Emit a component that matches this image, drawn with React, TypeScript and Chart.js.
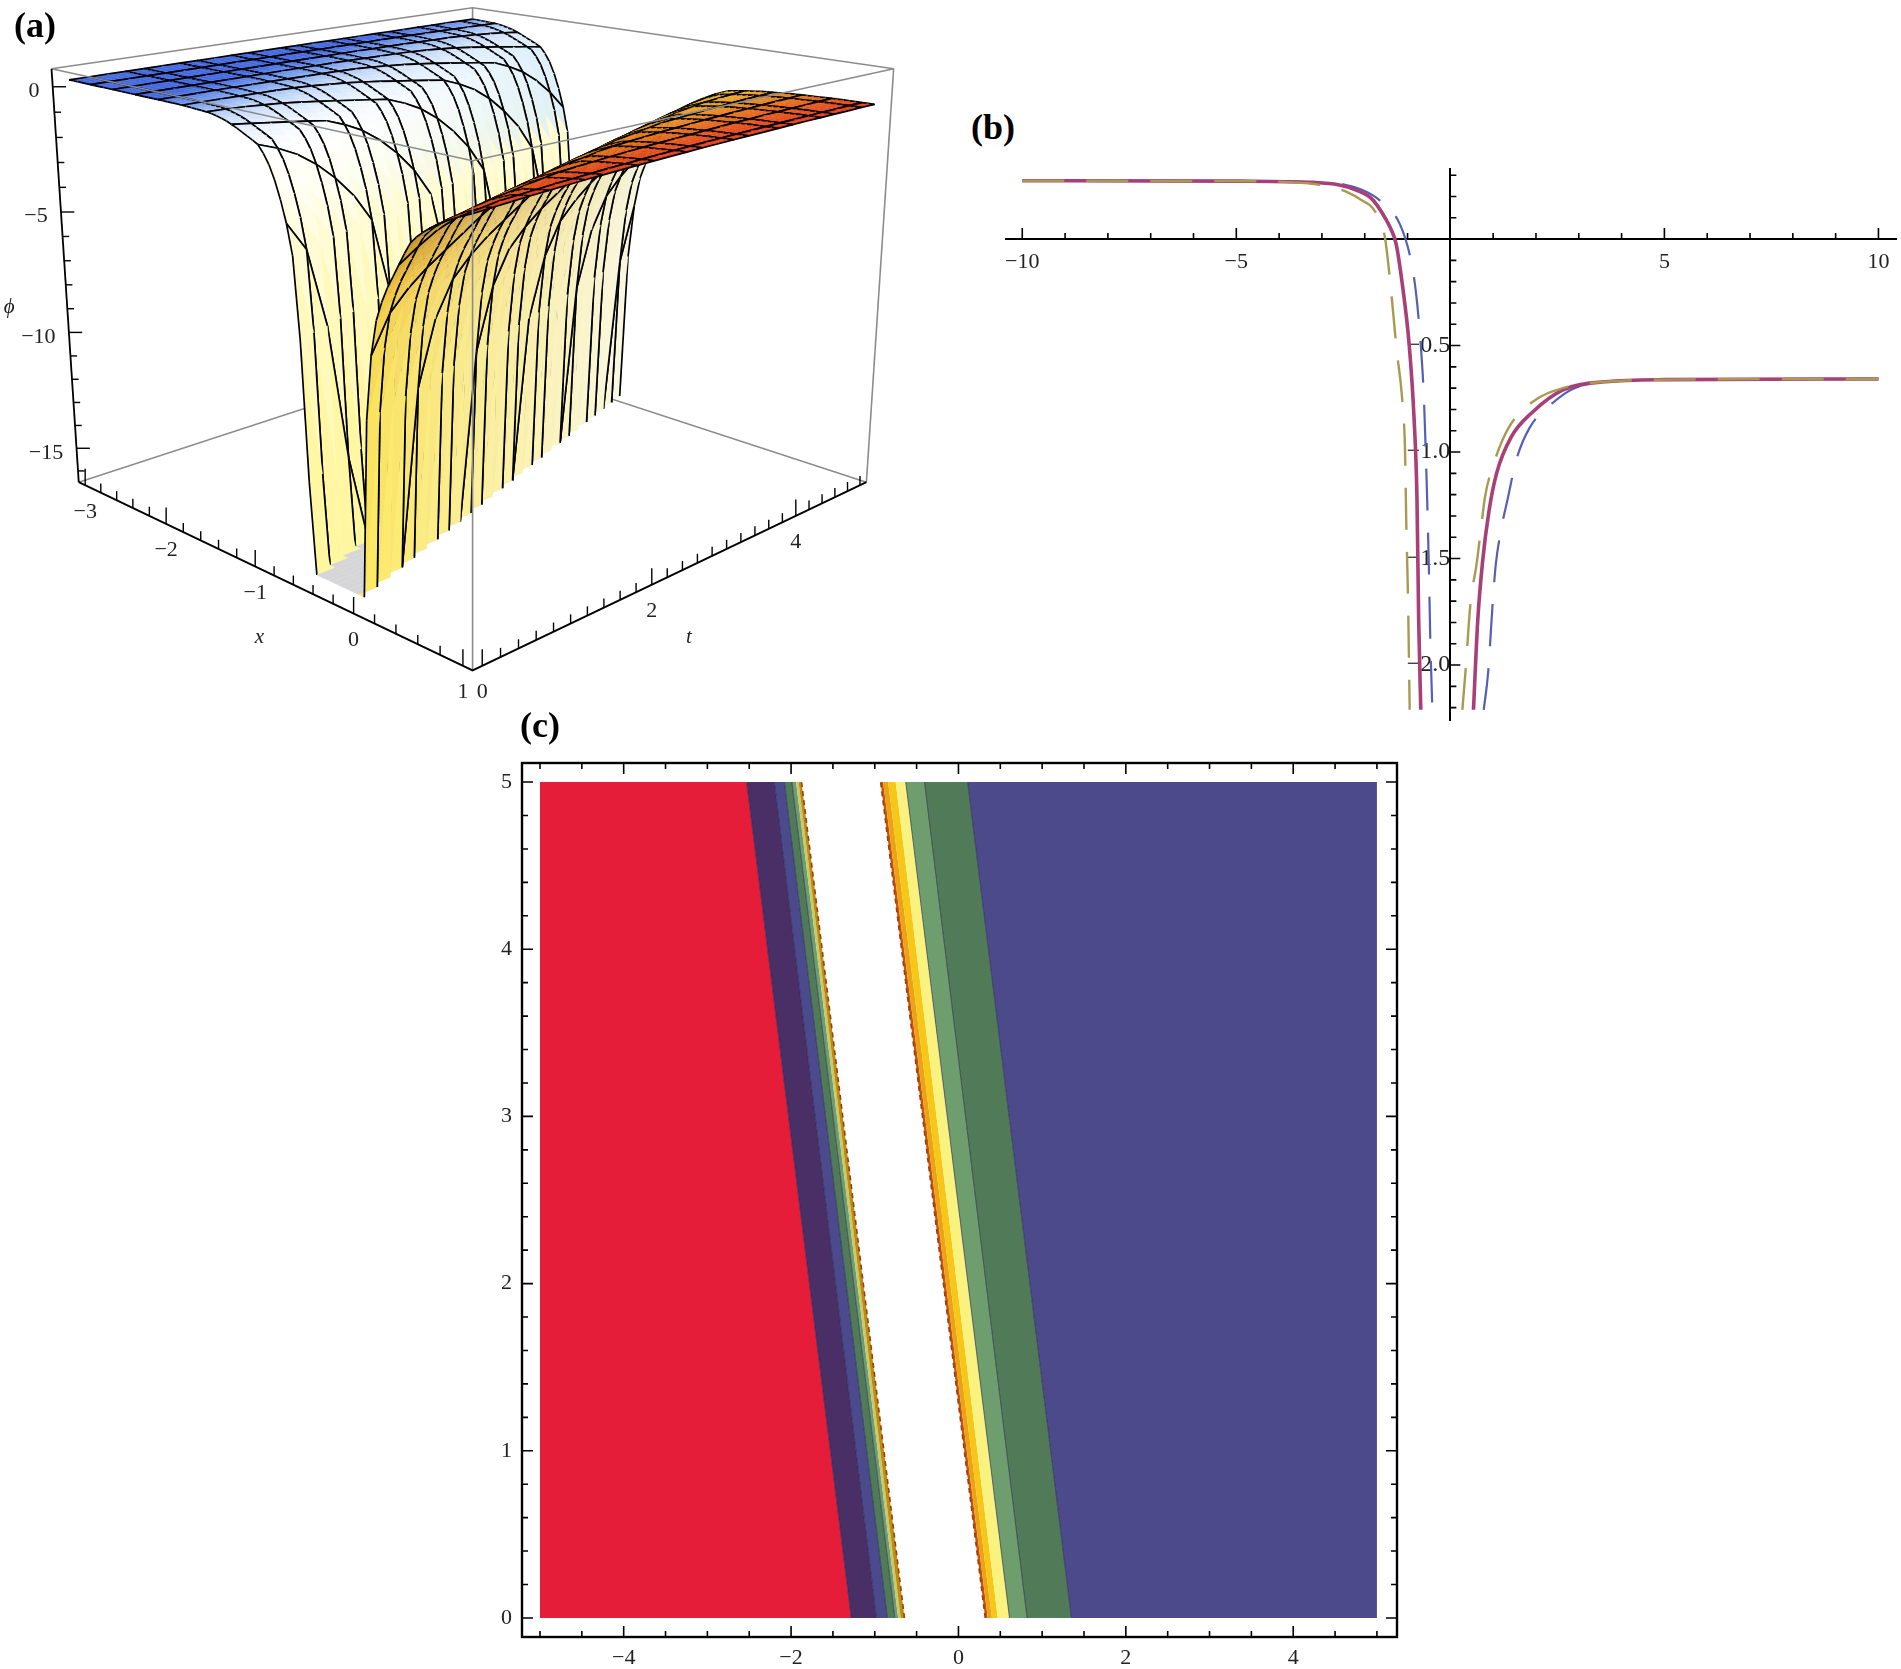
import React, { useEffect, useRef } from "react";
import { Chart, registerables } from "chart.js";

Chart.register(...registerables);

/* ---------- panel (a): wave profile read from the surface, phi against x + 0.26 t ---------- */
const aProfilePhi = [
  0.27, 0.27, 0.27, 0.27, 0.27, 0.27, 0.27, 0.27, 0.27, 0.27, 0.27, 0.27, 0.27, 0.27, 0.27, 0.27, 0.27, 0.27, 0.27, 0.27, 0.27,
  0.27, 0.27, 0.27, 0.27, 0.26, 0.26, 0.25, 0.24, 0.23, 0.22, 0.2, 0.16, 0.11, 0.05, -0.03, -0.12, -0.22, -0.32, -0.42,
  -0.53, -0.8, -1.15, -1.65, -2.3, -3.1, -4.2, -7.2, -12.5, -16,
  -16, -16, -16, -16, -16, -16, -16, -16, -16,
  -9.3, -6.9, -5.6, -4.9, -4.35, -3.9, -3.45, -3.0, -2.6, -2.35, -2.15, -1.98, -1.82, -1.68, -1.55, -1.43, -1.32, -1.22, -1.12,
  -1.08, -1.04, -1.0, -0.97, -0.94, -0.91, -0.89, -0.87, -0.85, -0.83, -0.81, -0.8, -0.78, -0.77, -0.76, -0.75, -0.74, -0.73,
  -0.72, -0.71, -0.71, -0.7, -0.7, -0.69, -0.69,
];
const aXColumns = 77;
const aTRows = 25;
const aXTickLabels = [-3, -2, -1, 0, 1];
const aTTickLabels = [0, 2, 4];
const aZTickLabels = [0, -5, -10, -15];

/* ---------- panel (b) ---------- */
const bMainLeftX = [-10, -4.9, -3.19, -2.62, -2.2, -1.84, -1.6, -1.42, -1.27, -1.13, -0.96, -0.85, -0.78, -0.74, -0.69];
const bMainLeftY = [0.274, 0.272, 0.266, 0.255, 0.23, 0.19, 0.125, 0.06, -0.02, -0.2, -0.5, -0.833, -1.216, -1.79, -2.21];
const bMainRightX = [0.54, 0.64, 0.75, 0.9, 1.08, 1.42, 1.91, 2.62, 3.61, 5.03, 10];
const bMainRightY = [-2.21, -1.79, -1.52, -1.28, -1.1, -0.93, -0.814, -0.709, -0.67, -0.66, -0.657];
const bOliveLeftX = [-10, -5.03, -3.33, -2.76, -2.41, -2.05, -1.81, -1.53, -1.42, -1.25, -1.13, -1.06, -1.03, -0.99, -0.95];
const bOliveLeftY = [0.274, 0.272, 0.262, 0.243, 0.22, 0.18, 0.144, 0.01, -0.172, -0.527, -0.74, -0.987, -1.33, -1.676, -2.21];
const bOliveRightX = [0.28, 0.35, 0.47, 0.61, 0.71, 0.81, 1.02, 1.35, 1.91, 2.62, 3.61, 5.03, 10];
const bOliveRightY = [-2.21, -2.04, -1.71, -1.53, -1.37, -1.21, -1.05, -0.89, -0.766, -0.7, -0.67, -0.66, -0.657];
const bBlueLeftX = [-10, -4.9, -3.19, -2.48, -2.05, -1.7, -1.18, -0.92, -0.81, -0.71, -0.62, -0.54, -0.5, -0.47, -0.42];
const bBlueLeftY = [0.274, 0.272, 0.266, 0.256, 0.23, 0.19, 0.07, -0.1, -0.24, -0.45, -0.738, -1.236, -1.56, -1.87, -2.21];
const bBlueRightX = [0.78, 0.88, 0.99, 1.06, 1.18, 1.35, 1.53, 1.84, 2.41, 2.9, 3.75, 5.03, 10];
const bBlueRightY = [-2.21, -2.04, -1.705, -1.53, -1.37, -1.21, -1.044, -0.89, -0.766, -0.7, -0.67, -0.66, -0.657];
const bXLabels = [-10, -5, 5, 10];
const bYLabels = [-2, -1.5, -1, -0.5];

/* ---------- panel (c): band boundaries at t = 0 and t = 5 ---------- */
const cBoundaryAt0 = [-5, -1.28, -0.98, -0.85, -0.76, -0.72, -0.69, -0.645, 0.32, 0.35, 0.4, 0.47, 0.61, 0.82, 1.35, 5];
const cBoundaryAt5 = [-5, -2.53, -2.2, -2.08, -1.99, -1.94, -1.91, -1.875, -0.93, -0.9, -0.84, -0.75, -0.63, -0.406, 0.11, 5];
const cBandColors = ["#e61d39", "#4a2f66", "#4b4a8c", "#507a58", "#6f9e6e", "#c9c96a", "#b98f12", null, "#c4540e", "#eba313", "#f6c618", "#faf27e", "#6f9e6e", "#507a58", "#4d4a8b"];
const cXLabels = [-4, -2, 0, 2, 4];
const cYLabels = [0, 1, 2, 3, 4, 5];

const serif = "'Liberation Serif', serif";
const minus = (s: string) => s.replace("-", "\u2212");

type RGB = number[];
const mix = (p: RGB, q: RGB, f: number): RGB => {
  const g = Math.min(1, Math.max(0, f));
  return p.map((v, i) => v + (q[i] - v) * g);
};
const css = (c: RGB) => `rgb(${Math.round(c[0])},${Math.round(c[1])},${Math.round(c[2])})`;
const stops = (list: [number, RGB][], v: number): RGB => {
  if (v <= list[0][0]) return list[0][1];
  for (let i = 1; i < list.length; i++) {
    if (v <= list[i][0]) return mix(list[i - 1][1], list[i][1], (v - list[i - 1][0]) / (list[i][0] - list[i - 1][0]));
  }
  return list[list.length - 1][1];
};

/* box projection of panel (a) */
const proj = (a: number, b: number, c: number) => {
  const e = 1 - a + b;
  const D = 1 + 0.232 * e - 0.0797 * c;
  return { x: 780 + (800.8 * (a + b - 1)) / D, y: (1460 - 166.3 * e - 1138 * c + 17 * e * c) / D };
};
const nx = (x: number) => 0.02 + (0.96 * (x + 3)) / 4;
const nt = (t: number) => 0.02 + (0.96 * t) / 5;
const nz = (p: number) => (p + 16.5) / 17.2;
const gridX = (k: number) => -3 + (4 * k) / aXColumns;
const gridT = (j: number) => (5 * j) / aTRows;
const vertex = (k: number, j: number) => proj(nx(gridX(k)), nt(gridT(j)), nz(aProfilePhi[k + j]));

const leftStops: [number, RGB][] = [
  [-2.0, [66, 104, 222]],
  [-1.6, [128, 165, 238]],
  [-1.3, [196, 218, 250]],
  [-1.05, [236, 244, 255]],
  [-0.85, [255, 255, 255]],
  [-0.7, [255, 255, 240]],
  [-0.6, [255, 251, 208]],
  [-0.5, [255, 247, 160]],
];
const plateauStops: [number, RGB][] = [
  [-0.6, [238, 205, 60]],
  [0, [235, 160, 40]],
  [0.5, [228, 110, 30]],
  [1, [226, 60, 30]],
];

function quadColor(k: number, j: number): string {
  const n = k + j + 1;
  const xi = -3 + (4 * n) / aXColumns;
  const x = gridX(k + 0.5);
  const t = gridT(j + 0.5);
  const phis = [aProfilePhi[k + j], aProfilePhi[k + j + 1], aProfilePhi[k + j + 2]];
  if (phis.every((p) => p <= -16)) return "rgb(214,214,216)";
  if (xi < -0.2) {
    const base = stops(leftStops, xi);
    if (xi > -1.1 && xi < -0.66) return css(mix(base, [210, 234, 251], Math.pow(t / 5, 2) * 0.75));
    return css(base);
  }
  if (xi > 0.72) return css(stops(plateauStops, x));
  const u = (xi - 0.03) / 0.69;
  const front = stops(
    [
      [0, [252, 232, 96]],
      [0.35, [236, 190, 56]],
      [0.7, [196, 142, 38]],
      [1, [140, 94, 22]],
    ],
    u
  );
  const far = mix([250, 248, 226], [224, 224, 196], u);
  return css(mix(front, far, Math.pow(t / 5, 0.8)));
}

const hidden = { display: false };

function makeA(canvas: HTMLCanvasElement) {
  const ds: any[] = [];
  const line = (pts: any[], color: string, width: number) =>
    ds.push({ data: pts, showLine: true, pointRadius: 0, borderColor: color, borderWidth: width, fill: false, tension: 0 });
  const box = "#8c8c8c";
  const P = proj;
  // back edges of the box
  line([P(0, 0, 0), P(0, 1, 0), P(1, 1, 0)], box, 1.6);
  line([P(0, 1, 0), P(0, 1, 1)], box, 1.6);
  line([P(0, 0, 1), P(0, 1, 1), P(1, 1, 1)], box, 1.6);
  line([P(1, 1, 0), P(1, 1, 1)], box, 1.6);

  const meshRows = new Set<number>();
  for (let i = 0; i <= 17; i++) meshRows.add(Math.round(i * 1.47));
  meshRows.add(aTRows);
  const meshCols = new Set<number>();
  for (let i = 0; i <= aXColumns; i += 5) meshCols.add(i);
  meshCols.add(aXColumns);
  const onFloor = (n: number) => aProfilePhi[n] <= -16 && aProfilePhi[n + 1] <= -16;
  const ink = "#000";
  const weight = 1.7;

  for (let k = 0; k < aXColumns; k++) {
    for (let j = aTRows - 1; j >= 0; j--) {
      const color = quadColor(k, j);
      const a = vertex(k, j);
      const b = vertex(k + 1, j);
      const c = vertex(k + 1, j + 1);
      const d = vertex(k, j + 1);
      ds.push({
        data: [a, b, c, d, a],
        showLine: true,
        pointRadius: 0,
        borderColor: color,
        borderWidth: 0.4,
        backgroundColor: color,
        fill: "shape",
        tension: 0,
      });
      if (meshCols.has(k) && !onFloor(k + j)) line([a, d], ink, weight);
      if (meshRows.has(j + 1) && !onFloor(k + j + 1)) line([c, d], ink, weight);
      if (meshCols.has(k + 1) && !onFloor(k + 1 + j)) line([b, c], ink, weight);
      if (meshRows.has(j) && !onFloor(k + j)) line([a, b], ink, weight);
    }
  }
  // front edges of the box
  line([P(0, 0, 1), P(1, 0, 1), P(1, 1, 1)], box, 1.6);
  line([P(1, 0, 0), P(1, 0, 1)], box, 1.6);
  // axes
  line([P(0, 0, 0), P(1, 0, 0), P(1, 1, 0)], "#000", 1.8);
  line([P(0, 0, 0), P(0, 0, 1)], "#000", 1.8);
  for (let i = 0; i <= 20; i++) {
    const v = -3 + i * 0.2;
    const p = P(nx(v), 0, 0);
    line([p, { x: p.x, y: p.y - (i % 5 === 0 ? 36 : 20) }], "#000", 1.4);
  }
  for (let i = 0; i <= 25; i++) {
    const v = i * 0.2;
    const p = P(1, nt(v), 0);
    line([p, { x: p.x, y: p.y - (i % 10 === 0 ? 36 : 20) }], "#000", 1.4);
  }
  for (let v = 0; v >= -16; v--) {
    const p = P(0, 0, nz(v));
    line([p, { x: p.x + (v % 5 === 0 ? 22 : 11), y: p.y }], "#000", 1.4);
  }
  const N = ds.length;
  ds.forEach((d, i) => (d.order = N - i));

  const labels = {
    id: "aLabels",
    afterDraw(chart: any) {
      const { ctx, scales } = chart;
      const sx = scales.x;
      const sy = scales.y;
      const text = (s: string, x: number, y: number, align: CanvasTextAlign, font: string) => {
        ctx.font = font;
        ctx.textAlign = align;
        ctx.textBaseline = "middle";
        ctx.fillStyle = "#222";
        ctx.fillText(s, sx.getPixelForValue(x), sy.getPixelForValue(y));
      };
      const f = `22px ${serif}`;
      aXTickLabels.forEach((v) => {
        const p = proj(nx(v), 0, 0);
        text(minus(String(v)), p.x, p.y + 58, "center", f);
      });
      aTTickLabels.forEach((v) => {
        const p = proj(1, nt(v), 0);
        text(String(v), p.x, p.y + 58, "center", f);
      });
      aZTickLabels.forEach((v) => {
        const p = proj(0, 0, nz(v));
        text(minus(String(v)), p.x - 22, p.y + 10, "right", f);
      });
      const it = `italic 21px ${serif}`;
      text("x", 428, 1388, "center", it);
      text("t", 1137, 1388, "center", it);
      text("\u03d5", 15, 670, "center", it);
    },
  };

  return new Chart(canvas, {
    type: "scatter",
    data: { datasets: ds },
    options: {
      responsive: false,
      animation: false,
      devicePixelRatio: 1,
      events: [],
      layout: { padding: 0 },
      plugins: { legend: hidden, tooltip: { enabled: false }, title: hidden },
      scales: {
        x: { display: false, min: 0, max: 1568 },
        y: { display: false, min: 0, max: 1568, reverse: true },
      },
    },
    plugins: [labels],
  } as any);
}

const zip = (xs: number[], ys: number[]) => xs.map((x, i) => ({ x, y: ys[i] }));

function makeB(canvas: HTMLCanvasElement) {
  const curve = (xs: number[], ys: number[], color: string, width: number, dash: number[]) => ({
    data: zip(xs, ys),
    showLine: true,
    pointRadius: 0,
    borderColor: color,
    borderWidth: width,
    borderDash: dash,
    cubicInterpolationMode: "monotone",
    fill: false,
  });
  const blue = "#5560b4";
  const mag = "#a83f76";
  const olive = "#a89a52";
  const ds = [
    curve(bOliveLeftX, bOliveLeftY, olive, 2.4, [42, 22]),
    curve(bOliveRightX, bOliveRightY, olive, 2.4, [42, 22]),
    curve(bMainLeftX, bMainLeftY, mag, 3.6, []),
    curve(bMainRightX, bMainRightY, mag, 3.6, []),
    curve(bBlueLeftX, bBlueLeftY, blue, 2.2, [42, 22]),
    curve(bBlueRightX, bBlueRightY, blue, 2.2, [42, 22]),
  ];
  const ticks = {
    id: "bTicks",
    afterDatasetsDraw(chart: any) {
      const { ctx, scales } = chart;
      const x0 = scales.x.getPixelForValue(0);
      const y0 = scales.y.getPixelForValue(0);
      ctx.strokeStyle = "#000";
      ctx.lineWidth = 1.6;
      ctx.beginPath();
      for (let i = -10; i <= 10; i++) {
        if (i === 0) continue;
        const p = scales.x.getPixelForValue(i);
        ctx.moveTo(p, y0);
        ctx.lineTo(p, y0 - (i % 5 === 0 ? 11 : 6));
      }
      for (let i = -22; i <= 3; i++) {
        if (i === 0) continue;
        const p = scales.y.getPixelForValue(i / 10);
        ctx.moveTo(x0, p);
        ctx.lineTo(x0 + (i % 5 === 0 ? 10 : 6), p);
      }
      ctx.stroke();
    },
  };
  const font = { family: serif, size: 22 };
  const pinX = (s: any) => {
    s.height = 0;
    s.paddingLeft = 0;
    s.paddingRight = 0;
  };
  const pinY = (s: any) => {
    s.width = 0;
    s.paddingTop = 0;
    s.paddingBottom = 0;
  };
  return new Chart(canvas, {
    type: "scatter",
    data: { datasets: ds as any },
    options: {
      responsive: false,
      animation: false,
      devicePixelRatio: 1,
      events: [],
      clip: false,
      layout: { padding: { left: 16, right: 4, top: 19, bottom: 20 } },
      plugins: { legend: hidden, tooltip: { enabled: false }, title: hidden },
      scales: {
        x: {
          type: "linear",
          position: { y: 0 },
          min: -10.38,
          max: 10.41,
          grid: { display: false },
          border: { display: true, color: "#000", width: 2 },
          afterBuildTicks: (s: any) => (s.ticks = bXLabels.map((value) => ({ value }))),
          afterFit: pinX,
          ticks: { autoSkip: false, maxRotation: 0, padding: 2, color: "#222", font, callback: (v: any) => minus(String(v)) },
        },
        y: {
          type: "linear",
          position: { x: 0 },
          min: -2.258,
          max: 0.329,
          grid: { display: false },
          border: { display: true, color: "#000", width: 2 },
          afterBuildTicks: (s: any) => (s.ticks = bYLabels.map((value) => ({ value }))),
          afterFit: pinY,
          ticks: { autoSkip: false, padding: 12, color: "#222", font: { family: serif, size: 24 }, callback: (v: any) => minus(Number(v).toFixed(1)) },
        },
      },
    } as any,
    plugins: [ticks],
  } as any);
}

function makeC(canvas: HTMLCanvasElement) {
  const ds: any[] = [];
  cBandColors.forEach((color, i) => {
    if (!color) return;
    const a = { x: cBoundaryAt0[i], y: 0 };
    const b = { x: cBoundaryAt5[i], y: 5 };
    const c = { x: cBoundaryAt5[i + 1], y: 5 };
    const d = { x: cBoundaryAt0[i + 1], y: 0 };
    ds.push({ data: [a, b, c, d, a], showLine: true, pointRadius: 0, borderWidth: 0, borderColor: color, backgroundColor: color, fill: "shape", tension: 0 });
  });
  cBoundaryAt0.forEach((x, i) => {
    if (i === 0 || i === cBoundaryAt0.length - 1) return;
    const edge = i === 7 || i === 8;
    if (i === 5 || i === 6 || i === 9 || i === 10 || i === 11) return;
    ds.push({
      data: [{ x, y: 0 }, { x: cBoundaryAt5[i], y: 5 }],
      showLine: true,
      pointRadius: 0,
      borderWidth: edge ? 1.6 : 1,
      borderColor: edge ? "#a8380c" : "rgba(28,28,72,0.6)",
      borderDash: edge ? [5, 4] : [],
      fill: false,
      tension: 0,
    });
  });
  const N = ds.length;
  ds.forEach((d, i) => (d.order = N - i));
  const frame = {
    id: "cFrame",
    afterDatasetsDraw(chart: any) {
      const { ctx, scales, chartArea: A } = chart;
      ctx.strokeStyle = "#000";
      ctx.lineWidth = 2.4;
      ctx.strokeRect(A.left, A.top, A.right - A.left, A.bottom - A.top);
      ctx.lineWidth = 1.6;
      ctx.beginPath();
      for (let i = -10; i <= 10; i++) {
        const p = scales.x.getPixelForValue(i / 2);
        const len = i % 4 === 0 ? 11 : 6;
        ctx.moveTo(p, A.bottom);
        ctx.lineTo(p, A.bottom - len);
        ctx.moveTo(p, A.top);
        ctx.lineTo(p, A.top + len);
      }
      for (let i = 0; i <= 25; i++) {
        const p = scales.y.getPixelForValue(i / 5);
        const len = i % 5 === 0 ? 11 : 6;
        ctx.moveTo(A.left, p);
        ctx.lineTo(A.left + len, p);
        ctx.moveTo(A.right, p);
        ctx.lineTo(A.right - len, p);
      }
      ctx.stroke();
    },
  };
  const font = { family: serif, size: 22 };
  return new Chart(canvas, {
    type: "scatter",
    data: { datasets: ds },
    options: {
      responsive: false,
      animation: false,
      devicePixelRatio: 1,
      events: [],
      layout: { padding: { left: 0, right: 23, top: 23, bottom: 0 } },
      plugins: { legend: hidden, tooltip: { enabled: false }, title: hidden },
      scales: {
        x: {
          type: "linear",
          min: -5.215,
          max: 5.24,
          grid: { display: false },
          border: { display: false },
          afterBuildTicks: (s: any) => (s.ticks = cXLabels.map((value) => ({ value }))),
          afterFit: (s: any) => (s.height = 32),
          ticks: { autoSkip: false, maxRotation: 0, padding: 0, color: "#222", font, callback: (v: any) => minus(String(v)) },
        },
        y: {
          type: "linear",
          min: -0.114,
          max: 5.114,
          grid: { display: false },
          border: { display: false },
          afterBuildTicks: (s: any) => (s.ticks = cYLabels.map((value) => ({ value }))),
          afterFit: (s: any) => (s.width = 52),
          ticks: { autoSkip: false, padding: 2, color: "#222", font, callback: (v: any) => String(v) },
        },
      },
    } as any,
    plugins: [frame],
  } as any);
}

const tag = (left: number, top: number): React.CSSProperties => ({
  position: "absolute",
  left,
  top,
  font: `bold 36px ${serif}`,
  lineHeight: "40px",
  color: "#000",
});

export default function App() {
  const a = useRef<HTMLCanvasElement>(null);
  const b = useRef<HTMLCanvasElement>(null);
  const c = useRef<HTMLCanvasElement>(null);
  useEffect(() => {
    const charts = [makeA(a.current!), makeB(b.current!), makeC(c.current!)];
    return () => charts.forEach((ch) => ch.destroy());
  }, []);
  const abs = (left: number, top: number): React.CSSProperties => ({ position: "absolute", left, top, display: "block" });
  return (
    <div style={{ position: "absolute", left: 0, top: 0, width: 1901, height: 1669, overflow: "hidden", background: "#fff" }}>
      <canvas ref={a} width={950} height={720} style={abs(0, 0)} />
      <canvas ref={b} width={910} height={590} style={abs(990, 150)} />
      <canvas ref={c} width={950} height={929} style={abs(470, 740)} />
      <div style={tag(14, 5)}>(a)</div>
      <div style={tag(971, 107)}>(b)</div>
      <div style={tag(520, 705)}>(c)</div>
    </div>
  );
}
